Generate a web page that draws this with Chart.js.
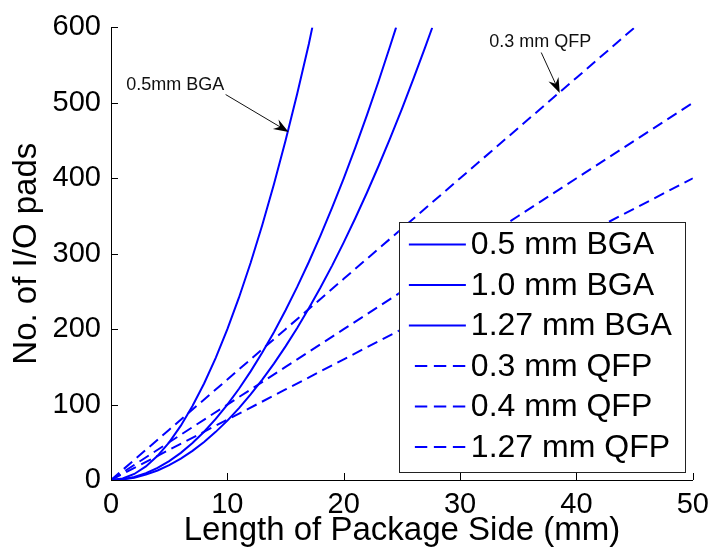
<!DOCTYPE html>
<html>
<head>
<meta charset="utf-8">
<title>I/O pads vs package side</title>
<script src="https://cdn.jsdelivr.net/npm/chart.js@4.4.1/dist/chart.umd.min.js"></script>
<style>
  html, body { margin: 0; padding: 0; background: #fff; }
  canvas { display: block; }
</style>
</head>
<body>
<canvas id="c" width="717" height="556"></canvas>
<script>
// Series names, in legend order
const seriesLabels = ['0.5 mm BGA', '1.0 mm BGA', '1.27 mm BGA', '0.3 mm QFP', '0.4 mm QFP', '1.27 mm QFP'];

// Package side length (mm) and pad count for each series
const bga05X = [0, 1, 2, 3, 4, 5, 6, 7, 8, 9, 10, 11, 12, 13, 14, 15, 16, 17, 17.3];
const bga05Y = [0, 2, 8, 18, 32, 50, 72, 98, 128, 162, 200, 242, 288, 338, 392, 450, 512, 578, 600];

const bga10X = [0, 1, 2, 3, 4, 5, 6, 7, 8, 9, 10, 11, 12, 13, 14, 15, 16, 17, 18, 19, 20, 21, 22, 23, 24, 24.5];
const bga10Y = [0, 1, 4, 9, 16, 25, 36, 49, 64, 81, 100, 121, 144, 169, 196, 225, 256, 289, 324, 361, 400, 441, 484, 529, 576, 600];

const bga127X = [0, 1, 2, 3, 4, 5, 6, 7, 8, 9, 10, 11, 12, 13, 14, 15, 16, 17, 18, 19, 20, 21, 22, 23, 24, 25, 26, 27, 27.6];
const bga127Y = [0, 0.8, 3.1, 7.1, 12.6, 19.7, 28.3, 38.6, 50.4, 63.8, 78.7, 95.3, 113.4, 133.1, 154.3, 177.2, 201.6, 227.6, 255.1, 284.2, 315, 347.3, 381.1, 416.6, 453.5, 492.1, 532.3, 573.9, 599.5];

const qfp03X = [0, 5, 10, 15, 20, 25, 30, 35, 40, 45];
const qfp03Y = [0, 66.7, 133.3, 200, 266.7, 333.3, 400, 466.7, 533.3, 600];

const qfp04X = [0, 5, 10, 15, 20, 25, 30, 35, 40, 45, 50];
const qfp04Y = [0, 50, 100, 150, 200, 250, 300, 350, 400, 450, 500];

const qfp127X = [0, 5, 10, 15, 20, 25, 30, 35, 40, 45, 50];
const qfp127Y = [0, 40, 80, 120, 160, 200, 240, 280, 320, 360, 400];

// Axis ranges and tick steps
const xTicks = [0, 10, 20, 30, 40, 50];
const yTicks = [0, 100, 200, 300, 400, 500, 600];

const FONT = '"Liberation Sans", Arial, Helvetica, sans-serif';
const BLUE = '#0000ff';
const DASH = [11, 6];

const pairs = (xs, ys) => xs.map((x, i) => ({ x, y: ys[i] }));
const seriesData = [
  pairs(bga05X, bga05Y), pairs(bga10X, bga10Y), pairs(bga127X, bga127Y),
  pairs(qfp03X, qfp03Y), pairs(qfp04X, qfp04Y), pairs(qfp127X, qfp127Y)
];
const dashed = [false, false, false, true, true, true];

const datasets = seriesLabels.map((label, i) => ({
  label,
  data: seriesData[i],
  borderColor: BLUE,
  backgroundColor: BLUE,
  borderWidth: 2,
  borderDash: dashed[i] ? DASH : [],
  pointRadius: 0,
  tension: 0,
  fill: false
}));

// Ticks that point into the plot, as in classic engineering plots
const inwardTicks = {
  id: 'inwardTicks',
  afterDraw(chart) {
    const { ctx, chartArea: a, scales: { x, y } } = chart;
    ctx.save();
    ctx.strokeStyle = '#000';
    ctx.lineWidth = 1;
    ctx.beginPath();
    x.ticks.forEach(t => {
      const px = Math.round(x.getPixelForValue(t.value)) + 0.5;
      ctx.moveTo(px, a.bottom); ctx.lineTo(px, a.bottom - 7);
    });
    y.ticks.forEach(t => {
      const py = Math.round(y.getPixelForValue(t.value)) + 0.5;
      ctx.moveTo(a.left, py); ctx.lineTo(a.left + 7, py);
    });
    ctx.stroke();
    ctx.restore();
  }
};

// Text callouts with arrows, placed in data coordinates
const callouts = [
  { text: '0.5mm BGA', tx: 1.3, ty: 524, fx: 9.85, fy: 511, ax: 15.26, ay: 461.4 },
  { text: '0.3 mm QFP', tx: 32.5, ty: 581, fx: 36.97, fy: 566.7, ax: 38.56, ay: 513.2 }
];

const calloutPlugin = {
  id: 'callouts',
  afterDatasetsDraw(chart) {
    const { ctx, scales: { x, y } } = chart;
    ctx.save();
    callouts.forEach(c => {
      ctx.fillStyle = '#111';
      ctx.font = '18px ' + FONT;
      ctx.textAlign = 'left';
      ctx.textBaseline = 'middle';
      ctx.fillText(c.text, x.getPixelForValue(c.tx), y.getPixelForValue(c.ty));

      const x0 = x.getPixelForValue(c.fx), y0 = y.getPixelForValue(c.fy);
      const x1 = x.getPixelForValue(c.ax), y1 = y.getPixelForValue(c.ay);
      const ang = Math.atan2(y1 - y0, x1 - x0);
      const len = 15, half = 5.5, notch = 10;
      ctx.strokeStyle = '#111';
      ctx.lineWidth = 1;
      ctx.beginPath();
      ctx.moveTo(x0, y0);
      ctx.lineTo(x1 - notch * Math.cos(ang), y1 - notch * Math.sin(ang));
      ctx.stroke();
      const bx = x1 - len * Math.cos(ang), by = y1 - len * Math.sin(ang);
      const nx = -Math.sin(ang), ny = Math.cos(ang);
      ctx.fillStyle = '#000';
      ctx.beginPath();
      ctx.moveTo(x1, y1);
      ctx.lineTo(bx + nx * half, by + ny * half);
      ctx.lineTo(x1 - notch * Math.cos(ang), y1 - notch * Math.sin(ang));
      ctx.lineTo(bx - nx * half, by - ny * half);
      ctx.closePath();
      ctx.fill();
    });
    ctx.restore();
  }
};

// Boxed legend inside the lower right of the plot
const boxLegend = {
  id: 'boxLegend',
  afterDraw(chart) {
    const { ctx, chartArea: a } = chart;
    const right = a.right - 8, bottom = a.bottom - 8;
    const left = right - 286, top = bottom - 250;
    ctx.save();
    ctx.fillStyle = '#fff';
    ctx.fillRect(left, top, right - left, bottom - top);
    ctx.strokeStyle = '#222';
    ctx.lineWidth = 1;
    ctx.strokeRect(Math.round(left) + 0.5, Math.round(top) + 0.5, Math.round(right - left), Math.round(bottom - top));
    ctx.font = '32px ' + FONT;
    ctx.textAlign = 'left';
    ctx.textBaseline = 'middle';
    chart.data.datasets.forEach((ds, i) => {
      const cy = top + 22.5 + i * 40.5;
      ctx.strokeStyle = ds.borderColor;
      ctx.lineWidth = 2;
      ctx.beginPath();
      if (ds.borderDash.length) {
        ctx.setLineDash([12.4, 6.6]);
        ctx.moveTo(left + 16, cy);
      } else {
        ctx.setLineDash([]);
        ctx.moveTo(left + 10, cy);
      }
      ctx.lineTo(left + 67, cy);
      ctx.stroke();
      ctx.setLineDash([]);
      ctx.fillStyle = '#000';
      ctx.fillText(ds.label, left + 72, cy + 1);
    });
    ctx.restore();
  }
};

new Chart(document.getElementById('c'), {
  type: 'line',
  data: { datasets },
  options: {
    responsive: false,
    devicePixelRatio: 1,
    animation: false,
    layout: { padding: { top: 24, right: 20, left: 0, bottom: 0 } },
    plugins: { legend: { display: false }, tooltip: { enabled: false } },
    scales: {
      x: {
        type: 'linear',
        min: xTicks[0], max: xTicks[xTicks.length - 1],
        afterBuildTicks: s => { s.ticks = xTicks.map(v => ({ value: v })); },
        afterFit: s => { s.height = 76; },
        grid: { display: false, drawTicks: false },
        border: { display: true, color: '#000', width: 1 },
        ticks: { color: '#000', font: { family: FONT, size: 29 }, padding: 8, maxRotation: 0 },
        title: { display: true, text: 'Length of Package Side (mm)', color: '#000', font: { family: FONT, size: 33 }, padding: { top: 0, bottom: 5 } }
      },
      y: {
        type: 'linear',
        min: yTicks[0], max: yTicks[yTicks.length - 1],
        afterBuildTicks: s => { s.ticks = yTicks.map(v => ({ value: v })); },
        afterFit: s => { s.width = 111; },
        grid: { display: false, drawTicks: false },
        border: { display: true, color: '#000', width: 1 },
        ticks: { color: '#000', font: { family: FONT, size: 29 }, padding: 10 },
        title: { display: true, text: 'No. of I/O pads', color: '#000', font: { family: FONT, size: 33 }, padding: { top: 7, bottom: 0 } }
      }
    }
  },
  plugins: [inwardTicks, calloutPlugin, boxLegend]
});
</script>
</body>
</html>
